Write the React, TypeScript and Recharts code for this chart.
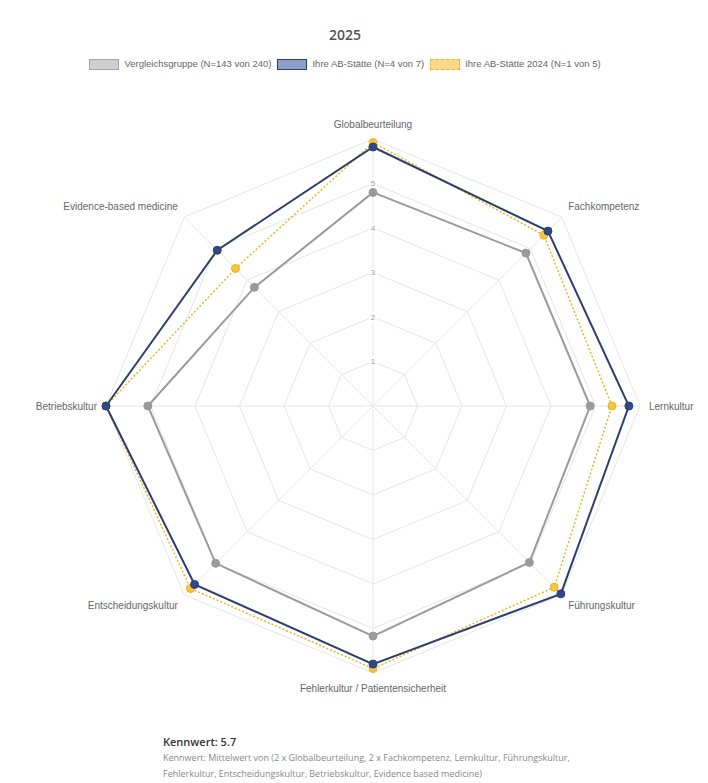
import { PolarAngleAxis, PolarGrid, PolarRadiusAxis, Radar, RadarChart } from 'recharts';

const categories = [
  'Globalbeurteilung',
  'Fachkompetenz',
  'Lernkultur',
  'Führungskultur',
  'Fehlerkultur / Patientensicherheit',
  'Entscheidungskultur',
  'Betriebskultur',
  'Evidence-based medicine'
];

const vergleichsgruppe = [4.8, 4.86, 4.88, 4.97, 5.17, 5.0, 5.06, 3.77];
const abStaette = [5.82, 5.56, 5.75, 5.97, 5.8, 5.67, 6.0, 4.95];
const abStaette2024 = [5.92, 5.43, 5.37, 5.76, 5.9, 5.8, 6.0, 4.37];

const radiusTickLabels = [1, 2, 3, 4, 5];

const data = categories.map((name, i) => ({
  name,
  vergleich: vergleichsgruppe[i],
  ab: abStaette[i],
  ab2024: abStaette2024[i]
}));

const legendItems = [
  { label: 'Vergleichsgruppe (N=143 von 240)', fill: '#cfcfcf', border: '1px solid #a8a8a8' },
  { label: 'Ihre AB-Stätte (N=4 von 7)', fill: '#8c9fc6', border: '1px solid #2d3f6e' },
  { label: 'Ihre AB-Stätte 2024 (N=1 von 5)', fill: '#fbd98c', border: '1px dashed #f0b020' }
];

const labelFont = '"Liberation Sans", Arial, sans-serif';

// Kategorie-Beschriftungen aussen am Netz
const AngleTick = (props: any) => {
  const { x, y, payload } = props;
  const ang = (payload.coordinate * Math.PI) / 180;
  const c = Math.cos(ang);
  const s = Math.sin(ang);
  const anchor = c > 0.1 ? 'start' : c < -0.1 ? 'end' : 'middle';
  return (
    <text
      x={x + c}
      y={y - s * 7}
      textAnchor={anchor}
      dominantBaseline="central"
      fill="#666"
      fontSize={10}
      fontFamily={labelFont}
    >
      {payload.value}
    </text>
  );
};

const RadiusTick = (props: any) => {
  const { x, y, payload } = props;
  if (!radiusTickLabels.includes(payload.value)) return <g />;
  return (
    <g>
      <rect x={x - 4} y={y - 5} width={8} height={10} fill="#fff" />
      <text
        x={x}
        y={y}
        textAnchor="middle"
        dominantBaseline="central"
        fill="#999"
        fontSize={8}
        fontFamily={labelFont}
      >
        {payload.value}
      </text>
    </g>
  );
};

const makeDot = (fill: string, stroke: string) => (props: any) => {
  const { cx, cy, index } = props;
  return <circle key={index} cx={cx} cy={cy} r={4} fill={fill} stroke={stroke} strokeWidth={1} />;
};

export default function App() {
  return (
    <div style={{ position: 'relative', width: 700, height: 775, fontFamily: labelFont }}>
      <div
        style={{
          position: 'absolute',
          left: -1,
          top: -3,
          width: 720,
          height: 800,
          border: '1px solid #e2e2e2',
          boxShadow: '0 0 3px rgba(0,0,0,0.06)',
          boxSizing: 'border-box'
        }}
      />
      <div
        style={{
          position: 'absolute',
          left: 0,
          top: 17,
          width: 674,
          textAlign: 'center',
          fontFamily: '"Open Sans", sans-serif',
          fontSize: 14,
          fontWeight: 600,
          color: '#555',
          lineHeight: '20px'
        }}
      >
        2025
      </div>
      <div
        style={{
          position: 'absolute',
          left: 0,
          top: 49,
          width: 674,
          display: 'flex',
          justifyContent: 'center',
          alignItems: 'center',
          gap: 6,
          fontSize: 9.5,
          color: '#666',
          lineHeight: '14px'
        }}
      >
        {legendItems.map((item) => (
          <div key={item.label} style={{ display: 'flex', alignItems: 'center', gap: 5 }}>
            <span
              style={{
                display: 'inline-block',
                width: 30,
                height: 11,
                background: item.fill,
                border: item.border,
                boxSizing: 'border-box'
              }}
            />
            <span>{item.label}</span>
          </div>
        ))}
      </div>
      <div style={{ position: 'absolute', left: 0, top: 0 }}>
        <RadarChart
          width={700}
          height={720}
          data={data}
          cx={365}
          cy={398}
          outerRadius={267}
          margin={{ top: 0, right: 0, bottom: 0, left: 0 }}
        >
          <PolarGrid gridType="polygon" stroke="#e6e6e6" />
          <PolarAngleAxis dataKey="name" tick={AngleTick} tickLine={false} axisLine={false} />
          <PolarRadiusAxis
            angle={90}
            domain={[0, 6]}
            tickCount={7}
            axisLine={false}
            tickLine={false}
            tick={RadiusTick}
          />
          <Radar
            dataKey="ab2024"
            name="Ihre AB-Stätte 2024 (N=1 von 5)"
            stroke="#f2b21e"
            strokeWidth={1.5}
            strokeDasharray="2 2"
            fill="#f2b21e"
            fillOpacity={0}
            dot={makeDot('#f5c443', '#f0b020')}
            isAnimationActive={false}
          />
          <Radar
            dataKey="ab"
            name="Ihre AB-Stätte (N=4 von 7)"
            stroke="#2d3f6e"
            strokeWidth={2}
            fill="#2d3f6e"
            fillOpacity={0}
            dot={makeDot('#2e4a86', '#2d3f6e')}
            isAnimationActive={false}
          />
          <Radar
            dataKey="vergleich"
            name="Vergleichsgruppe (N=143 von 240)"
            stroke="#9a9a9a"
            strokeWidth={2}
            fill="#9a9a9a"
            fillOpacity={0}
            dot={makeDot('#9a9a9a', '#9a9a9a')}
            isAnimationActive={false}
          />
        </RadarChart>
      </div>
      <div
        style={{
          position: 'absolute',
          left: 155,
          top: 726,
          fontFamily: '"Open Sans", sans-serif',
          color: '#333'
        }}
      >
        <div style={{ fontSize: 11, fontWeight: 600, lineHeight: '16px' }}>Kennwert: 5.7</div>
        <div style={{ fontSize: 9, color: '#888', lineHeight: '16px' }}>
          Kennwert: Mittelwert von (2 x Globalbeurteilung, 2 x Fachkompetenz, Lernkultur, Führungskultur,
          <br />
          Fehlerkultur, Entscheidungskultur, Betriebskultur, Evidence based medicine)
        </div>
      </div>
    </div>
  );
}
